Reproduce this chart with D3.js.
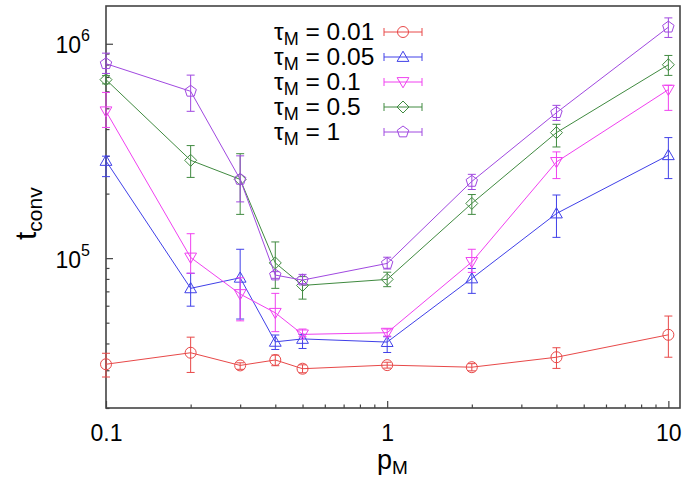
<!DOCTYPE html>
<html><head><meta charset="utf-8">
<script src="https://cdn.jsdelivr.net/npm/d3@7"></script>
<style>body{margin:0;background:#fff}svg{display:block}text{font-family:"Liberation Sans",Arial,Helvetica,sans-serif}</style>
</head><body><svg id="c" width="691" height="480"></svg>
<script>
const pM = [0.1,0.2,0.3,0.4,0.5,1,2,4,10];
const tauLabels = ["0.01","0.05","0.1","0.5","1"];
const t001 = [32000,36200,31600,33500,30500,31700,31000,34500,43900];
const t001Hi = [36000,42800,32500,35300,31800,32700,32200,38200,53700];
const t001Lo = [27900,29300,30300,31500,29200,30700,29800,30600,34500];
const t005 = [284000,72300,81000,40700,42000,40600,80400,161500,302000];
const t005Hi = [299000,85000,110000,43800,44100,43000,89500,197000,365000];
const t005Lo = [240000,59700,52000,37500,37900,36300,68500,125000,235000];
const t01 = [484000,100700,68000,55600,44100,44900,96000,281000,611000];
const t01Hi = [593000,130000,81000,68500,46700,46700,110000,313000,640000];
const t01Lo = [407000,85000,51000,45400,43000,43300,85800,235000,489000];
const t05 = [680000,286000,233000,95000,74600,79600,180000,385000,798000];
const t05Hi = [710000,335000,307000,119000,82000,86000,198000,421000,882000];
const t05Lo = [650000,238000,160000,72300,64400,73600,160000,330000,712000];
const t1 = [807000,600000,233000,83400,79000,94500,228000,477000,1195000];
const t1Hi = [904000,714000,300000,86500,84000,101000,246000,516000,1320000];
const t1Lo = [727000,484000,183000,80500,76000,89000,209000,439000,1070000];
const xMajor = [0.1,1,10];
const xMinor = [0.2,0.3,0.4,0.5,0.6,0.7,0.8,0.9,2,3,4,5,6,7,8,9];
const yMajor = [1e5,1e6];
const yMinor = [2e4,3e4,4e4,5e4,6e4,7e4,8e4,9e4,2e5,3e5,4e5,5e5,6e5,7e5,8e5,9e5];

const colors = ["#e84848","#4040e8","#f040f0","#408a40","#a048e0"];
const shapes = ["circle","triUp","triDown","diamond","pentagon"];
const series = [
  {v:t001,hi:t001Hi,lo:t001Lo},{v:t005,hi:t005Hi,lo:t005Lo},{v:t01,hi:t01Hi,lo:t01Lo},
  {v:t05,hi:t05Hi,lo:t05Lo},{v:t1,hi:t1Hi,lo:t1Lo}
];

const L=106,R=680,T=6,B=408;
const x = d3.scaleLog().domain([0.1,11]).range([L,R]);
const y = d3.scaleLog().domain([2e4,1.5e6]).range([B,T]);
const svg = d3.select("#c");

function shapePath(s){
  const p = d3.path();
  if(s==="circle"){p.arc(0,0,5.5,0,2*Math.PI);p.closePath();return p.toString();}
  let pts=[];
  if(s==="triUp"){const r=6.8;for(let i=0;i<3;i++){const a=-Math.PI/2+i*2*Math.PI/3;pts.push([r*Math.cos(a),r*Math.sin(a)+1]);}}
  if(s==="triDown"){const r=6.8;for(let i=0;i<3;i++){const a=Math.PI/2+i*2*Math.PI/3;pts.push([r*Math.cos(a),r*Math.sin(a)-1]);}}
  if(s==="diamond"){const r=6;for(let i=0;i<4;i++){const a=i*Math.PI/2;pts.push([r*Math.cos(a),r*Math.sin(a)]);}}
  if(s==="pentagon"){const r=6;for(let i=0;i<5;i++){const a=-Math.PI/2+i*2*Math.PI/5;pts.push([r*Math.cos(a),r*Math.sin(a)]);}}
  p.moveTo(pts[0][0],pts[0][1]);pts.slice(1).forEach(q=>p.lineTo(q[0],q[1]));p.closePath();
  return p.toString();
}

// axes
const axCol="#444";
const gx = svg.append("g").attr("transform",`translate(0,${B})`);
gx.call(d3.axisBottom(x).tickValues(xMinor).tickSize(-3.5).tickFormat(""));
const gx2 = svg.append("g").attr("transform",`translate(0,${B})`);
gx2.call(d3.axisBottom(x).tickValues(xMajor).tickSize(-7).tickPadding(17).tickFormat(d3.format("")));
const gy = svg.append("g").attr("transform",`translate(${L},0)`);
gy.call(d3.axisLeft(y).tickValues(yMinor).tickSize(-3.5).tickFormat(""));
const gy2 = svg.append("g").attr("transform",`translate(${L},0)`);
gy2.call(d3.axisLeft(y).tickValues(yMajor).tickSize(-7).tickPadding(16).tickFormat(""));
[gx,gx2,gy,gy2].forEach(g=>{g.select(".domain").remove();g.selectAll("line").attr("stroke",axCol).attr("stroke-width",1.2);});
gx2.selectAll("text").attr("font-size",23).attr("fill","#000");
gy2.selectAll(".tick text").each(function(d){
  const t=d3.select(this).attr("font-size",23).attr("fill","#000").attr("dy","0.4em");
  t.append("tspan").text("10");
  t.append("tspan").attr("font-size",16).attr("dy","-0.75em").text(Math.round(Math.log10(d)));
});
svg.append("rect").attr("x",L).attr("y",T).attr("width",R-L).attr("height",B-T)
  .attr("fill","none").attr("stroke",axCol).attr("stroke-width",1.6);

// axis titles
svg.append("text").attr("x",377).attr("y",469).attr("font-size",27).attr("fill","#000")
  .call(t=>{t.append("tspan").text("p");t.append("tspan").attr("font-size",19).attr("dy",5).text("M");});
svg.append("text").attr("transform","translate(36,240) rotate(-90)").attr("font-size",30).attr("fill","#000")
  .call(t=>{t.append("tspan").text("t");t.append("tspan").attr("font-size",21).attr("dy",6).text("conv");});

// series
const line = d3.line().x(d=>x(d[0])).y(d=>y(d[1]));
series.forEach((s,i)=>{
  const g=svg.append("g").attr("stroke",colors[i]).attr("fill","none").attr("stroke-width",1);
  const pts=pM.map((p,j)=>[p,s.v[j]]);
  g.append("path").attr("d",line(pts));
  pM.forEach((p,j)=>{
    const cx=x(p);
    g.append("line").attr("x1",cx).attr("x2",cx).attr("y1",y(s.lo[j])).attr("y2",y(s.hi[j]));
    g.append("line").attr("x1",cx-4).attr("x2",cx+4).attr("y1",y(s.lo[j])).attr("y2",y(s.lo[j]));
    g.append("line").attr("x1",cx-4).attr("x2",cx+4).attr("y1",y(s.hi[j])).attr("y2",y(s.hi[j]));
    g.append("path").attr("d",shapePath(shapes[i])).attr("transform",`translate(${cx},${y(s.v[j])})`);
  });
});

// legend
tauLabels.forEach((lab,i)=>{
  const cy=32+i*25;
  const t=svg.append("text").attr("x",274).attr("y",cy+8).attr("font-size",24.5).attr("fill","#000");
  t.append("tspan").text("τ");
  t.append("tspan").attr("font-size",18).attr("dy",5).text("M");
  t.append("tspan").attr("dy",-5).text(" = "+lab);
  const g=svg.append("g").attr("stroke",colors[i]).attr("fill","none").attr("stroke-width",1);
  g.append("line").attr("x1",384).attr("x2",422).attr("y1",cy).attr("y2",cy);
  g.append("line").attr("x1",384).attr("x2",384).attr("y1",cy-4).attr("y2",cy+4);
  g.append("line").attr("x1",422).attr("x2",422).attr("y1",cy-4).attr("y2",cy+4);
  g.append("path").attr("d",shapePath(shapes[i])).attr("transform",`translate(403,${cy})`);
});
</script></body></html>
